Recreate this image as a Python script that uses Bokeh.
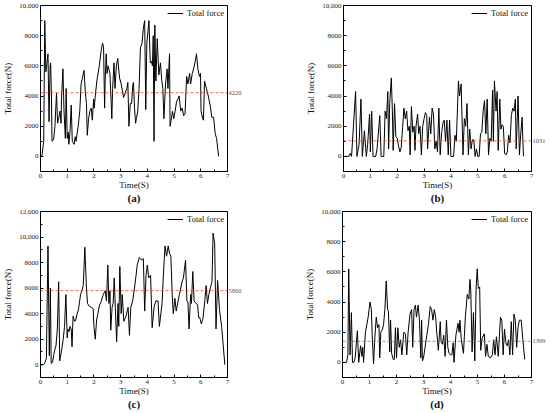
from bokeh.plotting import figure
from bokeh.layouts import column, row
from bokeh.models import Span, SingleIntervalTicker, FixedTicker, Range1d, Legend, LegendItem, LinearAxis
from bokeh.embed import file_html
from bokeh.resources import INLINE

FONT = "Liberation Serif"

# ---------------- data ----------------
t_a = [0.05, 0.12, 0.16, 0.20, 0.23, 0.28, 0.32, 0.36, 0.38, 0.41, 0.43, 0.49, 0.54, 0.60, 0.64, 0.69, 0.73, 0.77,
       0.79, 0.84, 0.88, 0.93, 0.96, 1.00, 1.04, 1.06, 1.10, 1.15, 1.19, 1.22, 1.26, 1.30, 1.33, 1.37, 1.41, 1.47,
       1.52, 1.57, 1.63, 1.68, 1.72, 1.75, 1.80, 1.85, 1.90, 1.94, 1.99, 2.01, 2.05, 2.11, 2.20, 2.27, 2.32, 2.36,
       2.40, 2.42, 2.46, 2.49, 2.53, 2.60, 2.67, 2.70, 2.75, 2.79, 2.84, 2.89, 2.96, 3.02, 3.11, 3.17, 3.23, 3.27,
       3.31, 3.36, 3.41, 3.46, 3.48, 3.52, 3.56, 3.59, 3.64, 3.69, 3.74, 3.80, 3.85, 3.90, 3.94, 3.98, 4.06, 4.11,
       4.15, 4.19, 4.22, 4.25, 4.28, 4.32, 4.37, 4.43, 4.49, 4.54, 4.58, 4.62, 4.68, 4.74, 4.77, 4.83, 4.85, 4.90,
       4.94, 4.99, 5.04, 5.09, 5.19, 5.25, 5.30, 5.36, 5.41, 5.47, 5.52, 5.58, 5.62, 5.68, 5.73, 5.78, 5.84, 5.89,
       5.95, 5.99, 6.01, 6.07, 6.10, 6.14, 6.21, 6.28, 6.36, 6.41, 6.48, 6.54, 6.59, 6.67]
f_a = [0, 1000, 9000, 5600, 6000, 6800, 2300, 6000, 6200, 4000, 1000, 1100, 2000, 4200, 2200, 2600, 3000, 2200,
       4000, 5800, 3000, 1200, 4500, 1200, 1600, 800, 1500, 3400, 1000, 900, 800, 1300, 1000, 1500, 2000, 3000,
       4800, 5200, 5700, 4200, 3500, 1400, 2500, 3000, 3200, 2400, 3800, 3200, 4000, 5000, 6000, 7000, 7500, 7300,
       3200, 5000, 6800, 5500, 6000, 5500, 2500, 4500, 6200, 4500, 6000, 6500, 5200, 4800, 3900, 4200, 4500, 4900,
       2000, 3500, 3500, 4800, 4900, 3200, 2200, 2500, 3000, 4500, 7200, 7500, 8500, 9000, 3100, 7500, 9000, 6200,
       6300, 6000, 8000, 1000, 8700, 5000, 7800, 5400, 6200, 5000, 4500, 2500, 4800, 5800, 4500, 6800, 2000, 2500,
       3000, 2500, 3000, 3600, 4000, 3000, 3200, 2700, 2800, 5300, 4800, 5500, 4800, 5500, 5800, 6200, 6800, 5800,
       5300, 5500, 3000, 2500, 2400, 5000, 4500, 4000, 3300, 2600, 2600, 1500, 1200, 0]

t_b = [0.00, 0.20, 0.25, 0.30, 0.45, 0.50, 0.58, 0.65, 0.70, 0.78, 0.85, 0.90, 0.97, 1.00, 1.05, 1.10, 1.20, 1.25,
       1.35, 1.40, 1.50, 1.55, 1.60, 1.65, 1.68, 1.72, 1.78, 1.82, 1.85, 1.90, 1.95, 2.00, 2.05, 2.10, 2.15, 2.20,
       2.25, 2.30, 2.35, 2.40, 2.45, 2.48, 2.53, 2.58, 2.63, 2.66, 2.70, 2.76, 2.80, 2.85, 2.90, 2.95, 3.00, 3.05,
       3.10, 3.13, 3.20, 3.25, 3.30, 3.35, 3.40, 3.45, 3.50, 3.55, 3.60, 3.65, 3.70, 3.75, 3.80, 3.85, 3.90, 3.95,
       4.00, 4.10, 4.15, 4.20, 4.28, 4.32, 4.38, 4.45, 4.50, 4.55, 4.60, 4.65, 4.70, 4.75, 4.80, 4.85, 4.90, 4.95,
       5.00, 5.05, 5.10, 5.15, 5.20, 5.25, 5.30, 5.35, 5.40, 5.45, 5.50, 5.55, 5.58, 5.62, 5.68, 5.72, 5.76, 5.82,
       5.86, 5.90, 5.95, 6.00, 6.05, 6.10, 6.15, 6.20, 6.25, 6.30, 6.35, 6.40, 6.43, 6.50, 6.55, 6.60, 6.65, 6.70]
f_b = [0, 0, 200, 0, 4300, 0, 800, 3800, 0, 1700, 0, 800, 2800, 300, 3000, 0, 0, 500,
       2700, 0, 0, 3000, 2500, 4300, 500, 3500, 5200, 3000, 400, 3500, 1300, 1200, 700, 300, 600, 1900,
       3200, 2500, 3000, 1700, 2000, 100, 3300, 1600, 2000, 400, 2000, 2800, 1500, 2000, 100, 2000, 2500, 2900,
       2700, 500, 2600, 1500, 3200, 2800, 500, 1000, 300, 3200, 100, 1500, 2200, 2400, 1000, 2400, 100, 2400,
       0, 0, 1400, 1000, 5000, 4000, 4800, 100, 2500, 2000, 3500, 100, 1800, 500, 1100, 1100, 0, 500,
       0, 0, 1500, 1600, 3000, 3700, 1500, 3800, 100, 1200, 1000, 4400, 1000, 5000, 3000, 4300, 400, 3800,
       1800, 2100, 2000, 200, 100, 300, 1400, 900, 2700, 3200, 3000, 3800, 500, 4000, 100, 1500, 2600, 0]

t_c = [0.00, 0.10, 0.15, 0.22, 0.28, 0.33, 0.37, 0.40, 0.45, 0.50, 0.55, 0.58, 0.63, 0.68, 0.72, 0.78, 0.85, 0.90,
       0.95, 1.00, 1.03, 1.07, 1.10, 1.15, 1.18, 1.22, 1.28, 1.32, 1.37, 1.42, 1.50, 1.55, 1.60, 1.66, 1.72, 1.76,
       1.82, 1.90, 1.97, 2.00, 2.05, 2.10, 2.15, 2.20, 2.28, 2.35, 2.42, 2.47, 2.52, 2.56, 2.60, 2.63, 2.68, 2.72,
       2.76, 2.80, 2.85, 2.90, 2.93, 2.97, 3.02, 3.06, 3.12, 3.20, 3.28, 3.33, 3.38, 3.45, 3.55, 3.62, 3.70, 3.78,
       3.85, 3.90, 3.95, 4.00, 4.05, 4.12, 4.18, 4.25, 4.32, 4.40, 4.45, 4.55, 4.60, 4.66, 4.72, 4.78, 4.83, 4.88,
       4.93, 4.97, 5.03, 5.08, 5.15, 5.20, 5.30, 5.35, 5.43, 5.48, 5.52, 5.56, 5.62, 5.65, 5.70, 5.75, 5.82, 5.88,
       5.92, 5.96, 6.02, 6.08, 6.15, 6.20, 6.25, 6.30, 6.38, 6.42, 6.46, 6.52, 6.57, 6.63, 6.70, 6.78, 6.90]
f_c = [0, 0, 100, 500, 9300, 700, 6000, 100, 200, 800, 1300, 1500, 2800, 6500, 300, 1000, 2000, 3000,
       5500, 2100, 2800, 2600, 3000, 2800, 1400, 3800, 3400, 3500, 4000, 4300, 5500, 5800, 6200, 9200, 6000, 4800,
       4600, 4500, 4400, 3000, 2000, 3500, 4000, 4600, 5000, 5500, 5800, 5000, 7800, 4800, 5800, 2700, 4500, 4800,
       6800, 4500, 1800, 4800, 3000, 7700, 4000, 5500, 3400, 3800, 4500, 2300, 4500, 5000, 6500, 7800, 8400, 8200,
       8300, 4200, 7000, 7800, 6800, 7000, 2900, 4500, 5000, 5000, 3000, 4800, 7000, 9300, 8500, 9300, 8700, 8500,
       5500, 4000, 5200, 4200, 5000, 5500, 6500, 6800, 8200, 5000, 4900, 2800, 5500, 4800, 7300, 5000, 4800, 4700,
       3700, 3700, 3200, 3600, 5000, 6200, 4800, 5500, 6200, 6500, 10300, 9500, 2800, 6600, 4300, 3000, 0]

t_d = [0.00, 0.15, 0.20, 0.23, 0.28, 0.33, 0.37, 0.42, 0.47, 0.55, 0.60, 0.67, 0.72, 0.75, 0.78, 0.85, 0.95, 1.02,
       1.07, 1.10, 1.15, 1.20, 1.25, 1.30, 1.35, 1.38, 1.42, 1.48, 1.52, 1.57, 1.62, 1.67, 1.70, 1.75, 1.78, 1.82,
       1.88, 1.92, 1.96, 2.00, 2.05, 2.10, 2.15, 2.20, 2.27, 2.33, 2.38, 2.43, 2.50, 2.56, 2.60, 2.65, 2.70, 2.74,
       2.80, 2.85, 2.90, 2.93, 2.96, 3.00, 3.10, 3.18, 3.25, 3.30, 3.35, 3.40, 3.45, 3.50, 3.55, 3.62, 3.65, 3.70,
       3.75, 3.80, 3.85, 3.90, 3.95, 4.00, 4.05, 4.10, 4.13, 4.20, 4.28, 4.32, 4.35, 4.40, 4.48, 4.55, 4.62, 4.68,
       4.72, 4.75, 4.80, 4.85, 4.90, 4.95, 4.99, 5.03, 5.08, 5.12, 5.17, 5.25, 5.30, 5.35, 5.40, 5.48, 5.55, 5.60,
       5.65, 5.70, 5.77, 5.85, 5.90, 5.95, 6.00, 6.05, 6.10, 6.15, 6.20, 6.25, 6.30, 6.35, 6.40, 6.45, 6.50, 6.55,
       6.62, 6.68, 6.75]
f_d = [0, 0, 500, 6200, 500, 3300, 0, 0, 300, 2100, 0, 1100, 400, 1000, 0, 2000, 3000, 4000,
       3500, 1800, -100, 1700, 3000, 2300, 2500, 300, 2000, 2200, 2500, 3500, 5400, 3500, 3400, 700, 2800, 600,
       200, 200, 2300, 300, 2300, 1000, 1500, 500, 2000, 1900, 500, 2000, 3200, 3500, 1000, 3500, 3800, 3000,
       3800, 2800, 300, 2800, 100, 300, 1500, 2500, 3700, 3500, 2800, 3500, 3000, 1800, 800, 2700, 1400, 1200,
       1800, 400, 2800, 1000, 600, 500, 500, 1300, 0, 1800, 2600, 2000, 2800, 1500, 600, 3000, 4500, 4200,
       5500, 4800, 700, 3300, 100, 5000, 6200, 4900, 5000, 800, 1600, 1900, 400, 1200, 400, 300, 500, 1500,
       500, 1700, 400, 3000, 2800, 500, 2200, 1300, 1100, 1500, 500, 2700, 500, 3200, 2800, 1000, 2300, 2800,
       2800, 1500, 200]

means = [4220, 1031, 5800, 1399]
y_max = [10000, 10000, 12000, 10000]
captions = ["(a)", "(b)", "(c)", "(d)"]
legend_label = "Total force"
x_title = "Time(S)"
y_title = "Total force(N)"
tick_overrides = {10000: "10,000", 12000: "12,000"}


def bare_axis(**kw):
    return LinearAxis(axis_line_color=None, major_tick_line_color=None, minor_tick_line_color=None,
                      major_tick_in=0, major_tick_out=0, minor_tick_in=0, minor_tick_out=0, **kw)


def panel(t, f, mean, ymax, caption, left, right, top, bottom):
    p = figure(width=275, height=206, output_backend="svg", toolbar_location=None,
               x_range=Range1d(0, 7), y_range=Range1d(-1000, ymax),
               min_border_left=left, min_border_right=right,
               min_border_top=top, min_border_bottom=bottom,
               background_fill_color="white", border_fill_color="white")
    p.grid.visible = False
    p.outline_line_color = "black"
    p.outline_line_width = 1
    p.outline_line_alpha = 1

    r = p.line(t, f, line_color="black", line_width=1)
    p.add_layout(Span(location=mean, dimension="width", line_color="#e8413c",
                      line_dash="3 2", line_width=0.8))

    xax = p.xaxis[0]
    yax = p.yaxis[0]
    xax.ticker = SingleIntervalTicker(interval=1, num_minor_ticks=2)
    yax.ticker = SingleIntervalTicker(interval=2000, num_minor_ticks=2)
    yax.major_label_overrides = tick_overrides
    for ax in (xax, yax):
        ax.major_tick_in = 3
        ax.major_tick_out = 0
        ax.minor_tick_in = 2
        ax.minor_tick_out = 0
        ax.axis_line_color = "black"
        ax.major_label_text_font = FONT
        ax.major_label_text_font_size = "7px"
        ax.major_label_text_color = "#222222"
        ax.major_label_standoff = 2
        ax.axis_label_text_font = FONT
        ax.axis_label_text_font_size = "9px"
        ax.axis_label_text_font_style = "normal"
        ax.axis_label_text_color = "#111111"
        ax.axis_label_standoff = 3
    xax.axis_label = x_title
    xax.axis_label_standoff = -1
    yax.axis_label = y_title

    # mean value label on the right side of the frame
    rax = bare_axis(ticker=FixedTicker(ticks=[mean], minor_ticks=[]),
                    major_label_standoff=1, major_label_text_font=FONT,
                    major_label_text_font_size="6.5px", major_label_text_color="#555555")
    p.add_layout(rax, "right")

    # caption below the x axis title
    cax = bare_axis(ticker=FixedTicker(ticks=[], minor_ticks=[]), major_label_standoff=0,
                    major_label_text_font_size="0px", axis_label=caption,
                    axis_label_text_font=FONT, axis_label_text_font_size="11px",
                    axis_label_text_color="#111111",
                    axis_label_text_font_style="bold", axis_label_standoff=-1)
    p.add_layout(cax, "below")

    leg = Legend(items=[LegendItem(label=legend_label, renderers=[r])], location="top_right",
                 border_line_color=None, background_fill_alpha=0, label_text_font=FONT,
                 label_text_font_size="8.5px", label_text_color="#111111",
                 glyph_width=16, glyph_height=8,
                 padding=2, margin=3, label_standoff=4, label_height=8)
    p.add_layout(leg)
    return p


pa = panel(t_a, f_a, means[0], y_max[0], captions[0], 36, 48, 5, 0)
pb = panel(t_b, f_b, means[1], y_max[1], captions[1], 68, 19, 5, 0)
pc = panel(t_c, f_c, means[2], y_max[2], captions[2], 35, 48, 5, 0)
pd = panel(t_d, f_d, means[3], y_max[3], captions[3], 67, 19, 5, 0)

layout = column(row(pa, pb), row(pc, pd))
open("out.html", "w").write(file_html(layout, INLINE))
